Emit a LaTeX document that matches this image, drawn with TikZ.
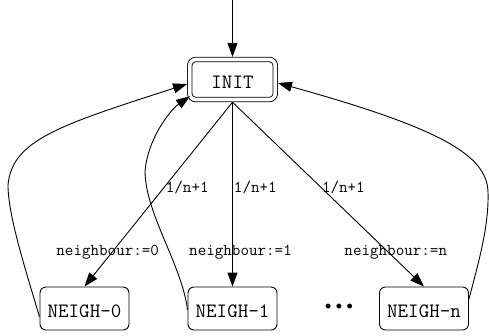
\documentclass[tikz,border=0pt]{standalone}
\usepackage{fontspec}
\newfontfamily\bulletfont{Liberation Mono}
\usepackage{tikz}
\usetikzlibrary{arrows.meta, calc}

\begin{document}
\begin{tikzpicture}[x=1bp, y=-1bp, line width=0.9bp,
  >={Triangle[length=14bp, width=10bp]},
  box/.style={draw, rounded corners=6bp, minimum width=89bp, minimum height=43bp,
    inner sep=0pt, font=\ttfamily\fontsize{20.4bp}{22bp}\selectfont,
    text height=18bp, text depth=0pt},
  initbox/.style={box, double, double distance=3.6bp, minimum width=85.5bp,
    minimum height=40bp, outer sep=2.7bp},
  lbl/.style={font=\ttfamily\fontsize{16.6bp}{18bp}\selectfont, inner sep=1bp}]
  \useasboundingbox (0,0) rectangle (489,335);

  % states
  \node[initbox] (init) at (232.5,79.5) {INIT};
  \node[box] (n0) at (84.5,308.5) {NEIGH-0};
  \node[box] (n1) at (232.5,308.5) {NEIGH-1};
  \node[box] (nn) at (424,308.5) {NEIGH-n};
  \node[font=\bulletfont\fontsize{18bp}{20bp}\selectfont, inner sep=0pt] (dots) at (339,308.5) {•••};
  \coordinate (entry) at (232.5,0);

  % entry arrow
  \draw[->] (entry) -- (init.north);

  % pick a neighbour
  \draw[->] (init.south) -- (n0.north)
    node[lbl, pos=0.46, anchor=west] {1/n+1}
    node[lbl, pos=0.816, xshift=-4bp] {neighbour:=0};
  \draw[->] (init.south) -- (n1.north)
    node[lbl, pos=0.46, anchor=west] {1/n+1}
    node[lbl, pos=0.816, xshift=8bp] {neighbour:=1};
  \draw[->] (init.south) -- (nn.north)
    node[lbl, pos=0.46, anchor=west] {1/n+1}
    node[lbl, pos=0.816, xshift=7bp] {neighbour:=n};

  % back to INIT
  \draw[->] ([yshift=-8.5bp]n0.west) .. controls (25,268) and (8,215) .. (8,185)
    .. controls (12,140) and (60,125) .. ([yshift=-4.5bp]init.west);
  \draw[->] ([yshift=-1.5bp]n1.west) .. controls (182,265) and (146,215) .. (145,172)
    .. controls (147,140) and (170,110) .. ([xshift=3bp, yshift=6bp]init.south west);
  \draw[->] ([yshift=9.5bp]nn.east) .. controls (479.5,259) and (489,225) .. (488,192)
    .. controls (487,155) and (440,128) .. ([yshift=-3.5bp]init.east);
\end{tikzpicture}
\end{document}
